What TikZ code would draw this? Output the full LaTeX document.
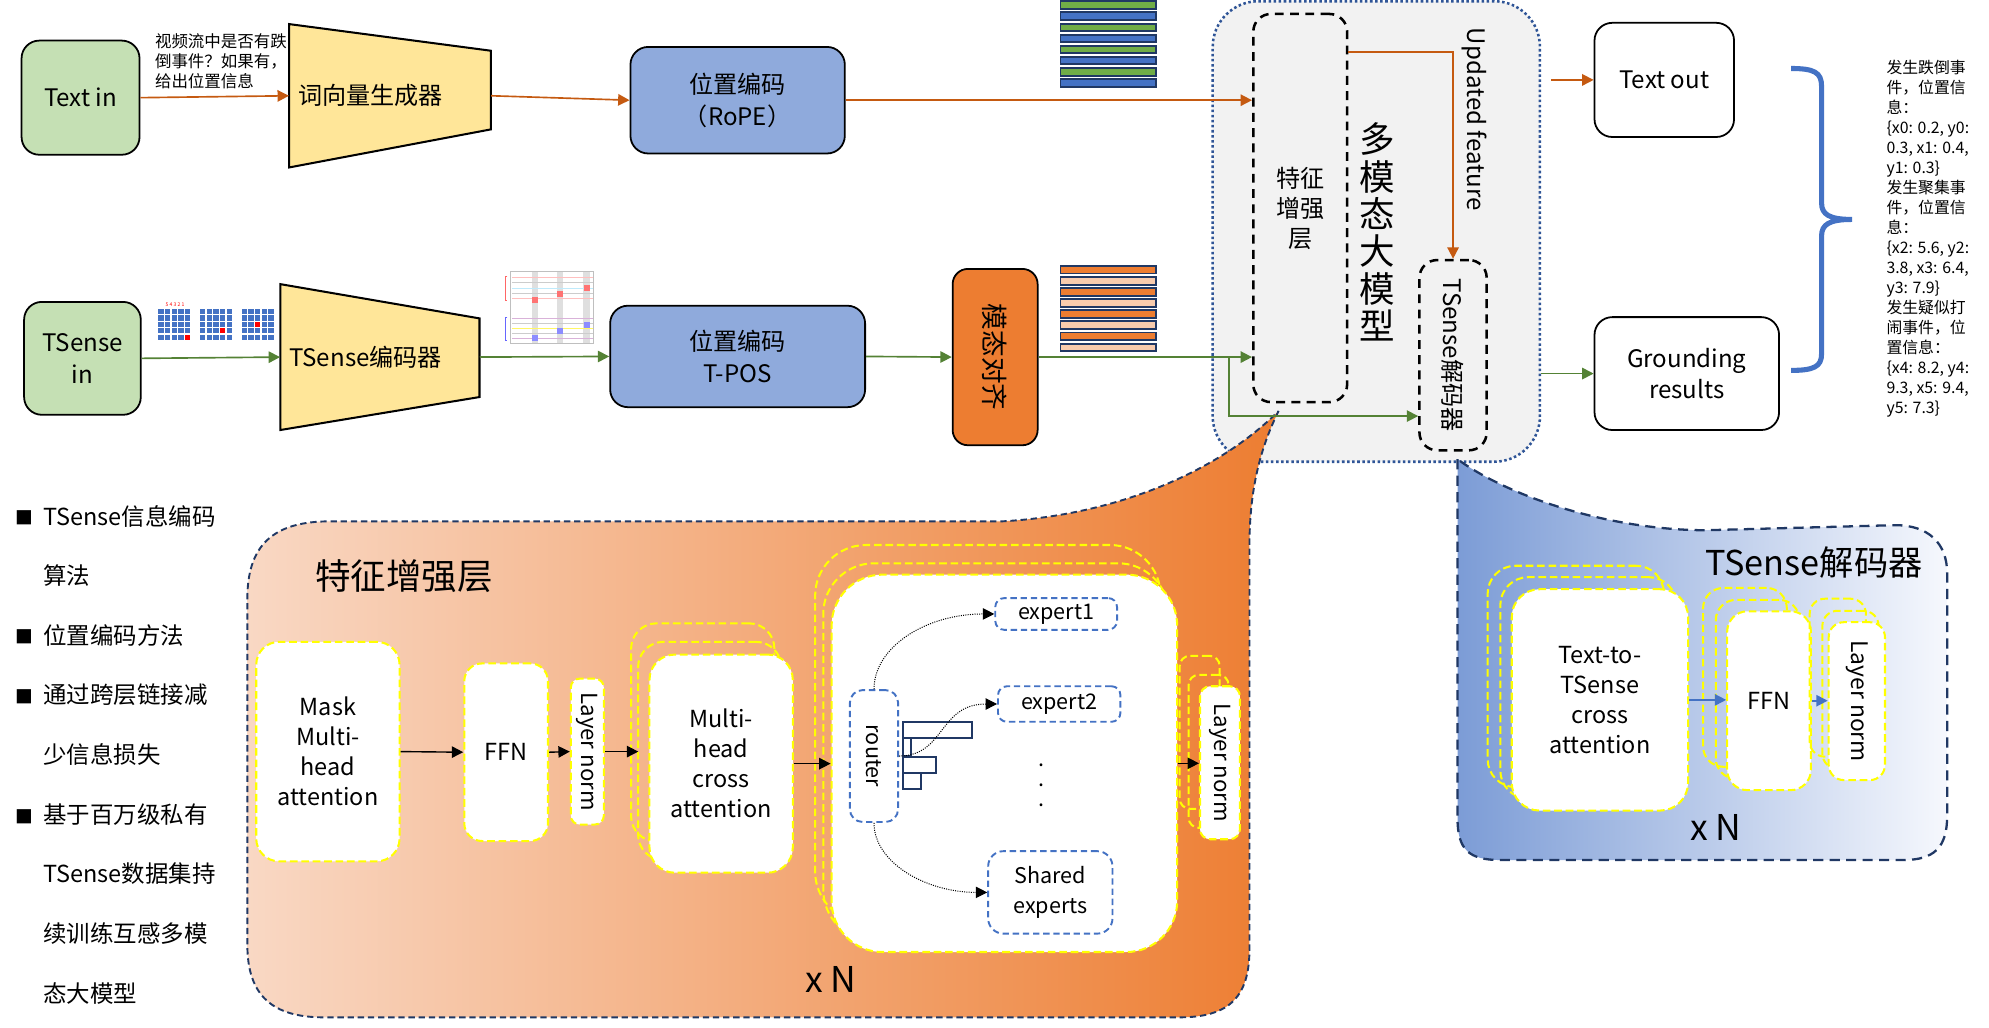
\documentclass[tikz,border=0pt]{standalone}
\usepackage{fontspec}
\setmainfont{Noto Sans CJK SC}
\usetikzlibrary{arrows.meta}
\definecolor{inGreen}{HTML}{C5E0B4}
\definecolor{posBlue}{HTML}{8FAADC}
\definecolor{genYellow}{HTML}{FFE699}
\definecolor{modOrange}{HTML}{ED7D31}
\definecolor{lightOrange}{HTML}{F8CBAD}
\definecolor{txtArrow}{HTML}{C55A11}
\definecolor{senArrow}{HTML}{548235}
\definecolor{barGreen}{HTML}{70AD47}
\definecolor{barBlue}{HTML}{4472C4}
\definecolor{navy}{HTML}{203864}
\definecolor{mmGray}{HTML}{F2F2F2}
\definecolor{mmBorder}{HTML}{2F5597}
\definecolor{dashYellow}{HTML}{FFFF00}
\definecolor{panelL}{HTML}{F9D8C4}
\definecolor{panelR}{HTML}{ED7D31}
\definecolor{decL}{HTML}{7C9CD6}
\definecolor{decR}{HTML}{F6F8FD}
\tikzset{
	flow/.style = {align=center, inner sep=0pt, font=\fontsize{19}{25}\selectfont},
	fl_box/.style = {flow, draw=black, line width=1.4pt, rounded corners=14pt},
	fl_in/.style = {fl_box, fill=inGreen},% input
	fl_pos/.style = {fl_box, fill=posBlue},% position encoding
	fl_out/.style = {fl_box, fill=white},% output
	fl_gen/.style = {flow, align=left, inner xsep=7pt},% text on a trapezoid
	fl_dash/.style = {fl_box, line width=2pt, dash pattern=on 7pt off 5pt,
		font=\fontsize{19}{23.6}\selectfont},% part of the big model
	trap/.style = {fill=genYellow, draw=black, line width=1.6pt},
	mm_n/.style = {draw=mmBorder, line width=2pt, dash pattern=on 2pt off 2pt,
		fill=mmGray, rounded corners=36pt},% big model
	opanel/.style = {left color=panelL, right color=panelR, draw=navy,
		line width=1.5pt, dash pattern=on 5pt off 3pt},
	dpanel/.style = {left color=decL, right color=decR, draw=navy,
		line width=1.8pt, dash pattern=on 8pt off 5pt},
	blk/.style = {flow, draw=dashYellow, line width=1.6pt, dash pattern=on 6pt off 3pt,
		fill=white, rounded corners=16pt, font=\fontsize{18.5}{23.6}\selectfont},% block
	blk_ghost/.style = {blk, fill=none},% copies behind a block
	moe_n/.style = {flow, draw=barBlue, line width=1.5pt, dash pattern=on 5pt off 3pt,
		rounded corners=7pt, font=\fontsize{17}{23.6}\selectfont},% router, experts
	vlbl/.style = {rotate=-90, inner sep=0pt, font=\fontsize{#1}{#1}\selectfont},% upright text turned
	txt_arr/.style = {->, txtArrow, line width=1.3pt},
	sen_arr/.style = {->, senArrow, line width=1.3pt},
	blk_arr/.style = {->, black, line width=1.1pt},
	dec_arr/.style = {->, barBlue, line width=1.3pt},
	route/.style = {->, black, line width=0.8pt, densely dotted},
	bar/.style = {draw=navy, line width=1.8pt},
	tok/.style = {draw=navy, line width=1.5pt}% token strip
}
\begin{document}
\begin{tikzpicture}[x=1pt, y=-1pt, >={Triangle[length=9pt,width=9pt]}]
\useasboundingbox (0,0) rectangle (1568,810);

% big model and the two call-outs
\node[mm_n, minimum width=258pt, minimum height=363pt] (mm) at (1085,182.5) {};
\draw[opanel] (1008,324) .. controls (994,352) and (985,385) .. (985,430) -- (985,748)
	.. controls (985,785) and (970,802) .. (930,802) -- (255,802)
	.. controls (215,802) and (195,785) .. (195,745) -- (195,472)
	.. controls (195,430) and (215,411) .. (260,411) -- (790,411)
	.. controls (880,406) and (960,372) .. (1008,324) -- cycle;
\draw[dpanel] (1149,362) -- (1149,645) .. controls (1149,670) and (1158,678) .. (1183,678)
	-- (1500,678) .. controls (1525,678) and (1535,668) .. (1535,643) -- (1535,452)
	.. controls (1535,428) and (1520,414) .. (1494,414) -- (1345,418)
	.. controls (1270,418) and (1190,392) .. (1149,362) -- cycle;

% text branch
\node[fl_in, minimum width=93pt, minimum height=90pt] (textin) at (63.5,77) {Text in};
\node[align=left, inner sep=0pt, anchor=north west, font=\fontsize{13}{16}\selectfont]
	(question) at (122,26) {视频流中是否有跌\\倒事件？如果有，\\给出位置信息};
\draw[trap] (228,19) -- (387,40) -- (387,102) -- (228,132) -- cycle;
\node[fl_gen, text width=145pt, minimum height=113pt] (wordgen) at (307.5,75.5) {词向量生成器};
\node[fl_pos, minimum width=169pt, minimum height=84pt] (rope) at (581.5,79) {位置编码\\（RoPE）};
\foreach \i/\c in {0/barGreen,1/barBlue,2/barGreen,3/barBlue,4/barGreen,5/barBlue,6/barGreen,7/barBlue}
	\draw[tok, fill=\c] (836,1+8.8*\i) rectangle (911,6.8+8.8*\i);

% TSense branch
\node[fl_in, minimum width=92pt, minimum height=89pt] (tsin) at (65,282.5) {TSense\\in};
\foreach \g in {0,1,2}
	\foreach \r in {0,...,4}
		\foreach \c in {0,...,4}
			\fill[barBlue] (124.7+32.9*\g+5.26*\c, 243.6+5.04*\r) rectangle ++(4.2,4.1);
\foreach \g/\k in {0/4,1/3,2/2}
	\fill[red] (124.7+32.9*\g+5.26*\k, 243.6+5.04*\k) rectangle ++(4.2,4.1);
\node[inner sep=0pt, text=red, font=\fontsize{4}{4}\selectfont] (gridnum) at (138,240) {5 4 3 2 1};
\draw[trap] (221,224) -- (378,251) -- (378,313) -- (221,339) -- cycle;
\node[fl_gen, text width=143pt, minimum height=115pt] (tsenc) at (299.5,281.5) {TSense编码器};
% little plot
\draw[gray!50, line width=0.5pt] (402,214) rectangle (467.5,270.4);
\foreach \x in {421.8,441.5,462.5}
	\fill[gray!25] (\x-2.6,214.3) rectangle (\x+2.6,270.1);
\foreach \y/\c in {219/red!25,223/gray!40,227/cyan!25,231/gray!40,235/red!25,
		251/violet!30,255/gray!40,259/yellow!60,263/gray!40,267/violet!30}
	\draw[\c, line width=0.6pt] (404,\y) -- (467.5,\y);
\foreach \x/\y in {421.8/236.5,441.5/232,462.5/227.3}
	\fill[red!55] (\x-2.5,\y-2.5) rectangle ++(5,5);
\foreach \x/\y in {421.8/266.7,441.5/261,462.5/256}
	\fill[blue!45] (\x-2.5,\y-2.5) rectangle ++(5,5);
\draw[red!60, line width=0.5pt] (400,218) -- (398,218) -- (398,237) -- (400,237);
\draw[blue!60, line width=0.5pt] (400,250) -- (398,250) -- (398,268) -- (400,268);
\node[fl_pos, minimum width=201pt, minimum height=80pt] (tpos) at (581.5,281) {位置编码\\T-POS};
\node[fl_box, fill=modOrange, rounded corners=12pt, minimum width=67pt, minimum height=139pt,
	label={[vlbl=21]center:模态对齐}] (modal) at (784.5,281.5) {};
\foreach \i/\c in {0/modOrange,1/lightOrange,2/modOrange,3/lightOrange,4/modOrange,5/lightOrange,6/modOrange,7/lightOrange}
	\draw[tok, fill=\c] (836,209.6+8.75*\i) rectangle (911,215.6+8.75*\i);

% inside the big model
\node[fl_dash, minimum width=74pt, minimum height=306pt] (feat) at (1025,164) {特征\\增强\\层};
\node[fl_dash, minimum width=53pt, minimum height=150pt,
	label={[vlbl=19]center:TSense解码器}] (dec) at (1145.5,280) {};
\node[flow, font=\fontsize{28}{29.5}\selectfont] (mmtitle) at (1086,183) {多\\模\\态\\大\\模\\型};
\node[vlbl=19] (updlbl) at (1162,94) {Updated feature};

% outputs
\node[fl_out, minimum width=110pt, minimum height=90pt] (textout) at (1312,63) {Text out};
\node[fl_out, minimum width=145.5pt, minimum height=89pt] (ground) at (1329.75,294.5) {Grounding\\results};
\draw[barBlue, line width=4pt] (1412,54) .. controls (1430,54) and (1436,57) .. (1436,68) -- (1436,160)
	.. controls (1436,169) and (1442,173) .. (1460,173) .. controls (1442,173) and (1436,177) .. (1436,186)
	-- (1436,279) .. controls (1436,289) and (1430,292) .. (1412,292);
\node[align=left, inner sep=0pt, anchor=north west, font=\fontsize{12.5}{15.8}\selectfont]
	(events) at (1487,47) {发生跌倒事\\件，位置信\\息：\\\{x0: 0.2, y0:\\0.3, x1: 0.4,\\y1: 0.3\}\\%
	发生聚集事\\件，位置信\\息：\\\{x2: 5.6, y2:\\3.8, x3: 6.4,\\y3: 7.9\}\\%
	发生疑似打\\闹事件，位\\置信息：\\\{x4: 8.2, y4:\\9.3, x5: 9.4,\\y5: 7.3\}};

% connectors
\coordinate (split) at (969,281.5);
\coordinate (txtsrc) at (1223,63);
\draw[txt_arr] (textin.east) -- (wordgen.west);
\draw[txt_arr] (wordgen.east) -- (rope.west);
\draw[txt_arr] (rope.east) -- (rope.east -| feat.west);
\draw[txt_arr] ([yshift=123pt]feat.east) -| (dec.north);
\draw[txt_arr] (txtsrc) -- (textout.west);
\draw[sen_arr] (tsin.east) -- (tsenc.west);
\draw[sen_arr] (tsenc.east) -- (tpos.west);
\draw[sen_arr] (tpos.east) -- (modal.west);
\draw[sen_arr] (modal.east) -- (modal.east -| feat.west);
\draw[sen_arr] (split) |- ([yshift=-48pt]dec.west);
\draw[sen_arr] (mm.east |- ground.west) -- (ground.west);

% left notes
\foreach \y [count=\k] in {408,502,549,644}
	\node[inner sep=0pt, font=\fontsize{14}{14}\selectfont] (bul\k) at (19,\y) {■};
\node[align=left, inner sep=0pt, anchor=north west, font=\fontsize{18.5}{47}\selectfont]
	(notes) at (34,398) {TSense信息编码\\算法\\位置编码方法\\通过跨层链接减\\少信息损失\\基于百万级私有\\TSense数据集持\\续训练互感多模\\态大模型};

% feature enhancement layer
\node[flow, font=\fontsize{28}{30}\selectfont] (ftitle) at (318.5,454) {特征增强层};
\node[blk, minimum width=113pt, minimum height=173pt, rounded corners=18pt] (mmha) at (258.5,592.5) {Mask\\Multi-\\head\\attention};
\node[blk, minimum width=66pt, minimum height=140pt, rounded corners=14pt] (ffn1) at (399,593) {FFN};
\node[blk, minimum width=26pt, minimum height=115pt, rounded corners=7pt,
	label={[vlbl=17.5]center:Layer norm}] (ln1) at (463,592.5) {};
\node[blk_ghost, minimum width=113pt, minimum height=172pt, rounded corners=20pt] (mhcaB) at (554,577.4) {};
\node[blk_ghost, minimum width=113pt, minimum height=172pt, rounded corners=20pt] (mhcaA) at (559.5,592) {};
\node[blk, minimum width=113pt, minimum height=172pt, rounded corners=20pt] (mhca) at (568.5,602) {Multi-\\head\\cross\\attention};
\node[blk_ghost, minimum width=272.4pt, minimum height=297.5pt, rounded corners=40pt] (moeB) at (778.8,578.4) {};
\node[blk_ghost, minimum width=272.4pt, minimum height=297.5pt, rounded corners=40pt] (moeA) at (785.2,592.8) {};
\node[blk, minimum width=272.4pt, minimum height=297.5pt, rounded corners=40pt] (moe) at (791.8,601.75) {};
\node[moe_n, minimum width=38pt, minimum height=104pt, rounded corners=10pt,
	label={[vlbl=17]center:router}] (router) at (689,596) {};
\node[moe_n, minimum width=96pt, minimum height=25pt] (exp1) at (832.6,484) {expert1};
\node[moe_n, minimum width=96.5pt, minimum height=28pt] (exp2) at (835,555) {expert2};
\node[moe_n, minimum width=98pt, minimum height=65pt, rounded corners=12pt] (shared) at (828,703.5) {Shared\\experts};
\node[flow, font=\fontsize{17}{15.5}\selectfont] (dots) at (821,619) {.\\.\\.};
\draw[bar] (711.6,569) rectangle (766.5,582);
\draw[bar] (711.6,582) rectangle (718.2,595.7);
\draw[bar] (711.6,596.5) rectangle (738,609.6);
\draw[bar] (711.6,609.6) rectangle (726.3,622);
\draw[route] (router.north) .. controls (689,510) and (730,484) .. (exp1.west);
\draw[route] (router.east) .. controls (745,596) and (740,555) .. (exp2.west);
\draw[route] (router.south) .. controls (689,680) and (730,703.5) .. (shared.west);
\node[blk_ghost, minimum width=31.5pt, minimum height=120.6pt, rounded corners=8pt] (ln2B) at (945.75,577.3) {};
\node[blk_ghost, minimum width=31.5pt, minimum height=120.6pt, rounded corners=8pt] (ln2A) at (952.75,592.3) {};
\node[blk, minimum width=31.5pt, minimum height=120.6pt, rounded corners=8pt,
	label={[vlbl=17.5]center:Layer norm}] (ln2) at (961.75,601.3) {};
\node[flow, font=\fontsize{28}{30}\selectfont] (xN1) at (655,772) {x N};
\draw[blk_arr] (mmha.east) -- (ffn1.west);
\draw[blk_arr] (ffn1.east) -- (ln1.west);
\draw[blk_arr, shorten >=8pt] (ln1.east) -- (ln1.east -| mhca.west);
\draw[blk_arr] (mhca.east) -- (mhca.east -| moe.west);
\draw[blk_arr] (moe.east) -- (moe.east -| ln2.west);

% TSense decoder
\node[flow, font=\fontsize{27}{30}\selectfont] (dtitle) at (1430,443.5) {TSense解码器};
\node[blk_ghost, minimum width=139pt, minimum height=174.5pt, rounded corners=22pt] (taB) at (1242.25,533.25) {};
\node[blk_ghost, minimum width=139pt, minimum height=174.5pt, rounded corners=22pt] (taA) at (1252.25,542.25) {};
\node[blk, minimum width=139pt, minimum height=174.5pt, rounded corners=22pt] (ta) at (1261.25,551.75) {Text-to-\\TSense\\cross\\attention};
\node[blk_ghost, minimum width=66pt, minimum height=141pt, rounded corners=16pt] (ffn2B) at (1375.6,534) {};
\node[blk_ghost, minimum width=66pt, minimum height=141pt, rounded corners=16pt] (ffn2A) at (1385.6,543.4) {};
\node[blk, minimum width=66pt, minimum height=141pt, rounded corners=16pt] (ffn2) at (1394.6,552.4) {FFN};
\node[blk_ghost, minimum width=44.4pt, minimum height=124.5pt, rounded corners=12pt] (ln3B) at (1448.8,534.25) {};
\node[blk_ghost, minimum width=44.4pt, minimum height=124.5pt, rounded corners=12pt] (ln3A) at (1458.8,543.75) {};
\node[blk, minimum width=44.4pt, minimum height=124.5pt, rounded corners=12pt,
	label={[vlbl=18]center:Layer norm}] (ln3) at (1463.8,552.75) {};
\node[flow, font=\fontsize{28}{30}\selectfont] (xN2) at (1352.5,652.6) {x N};
\draw[dec_arr] (ta.east) -- (ta.east -| ffn2.west);
\draw[dec_arr] (ffn2.east) -- (ffn2.east -| ln3.west);
\end{tikzpicture}
\end{document}
